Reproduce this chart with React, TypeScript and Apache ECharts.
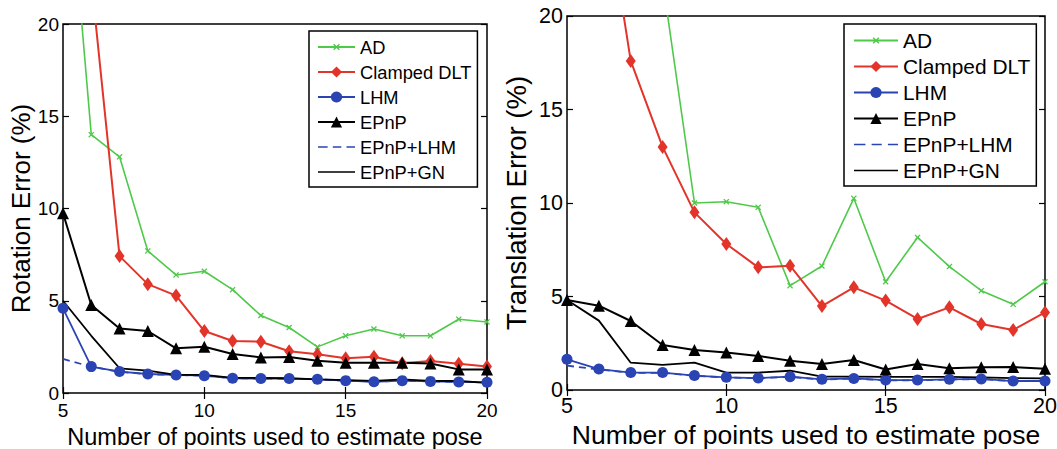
import React, { useEffect, useRef } from "react";
import * as echarts from "echarts";

// Number of 2D/3D correspondences on the horizontal axis
const pointCounts = [5, 6, 7, 8, 9, 10, 11, 12, 13, 14, 15, 16, 17, 18, 19, 20];
const yTicks = [0, 5, 10, 15, 20];

const methodNames = ["AD", "Clamped DLT", "LHM", "EPnP", "EPnP+LHM", "EPnP+GN"];

// Rotation error (%)
const rotAD = [32, 14.0, 12.8, 7.7, 6.4, 6.6, 5.6, 4.2, 3.55, 2.5, 3.1, 3.47, 3.1, 3.1, 4.0, 3.85];
const rotDLT = [40, 22.4, 7.42, 5.9, 5.28, 3.36, 2.82, 2.78, 2.26, 2.1, 1.88, 1.97, 1.61, 1.73, 1.59, 1.43];
const rotLHM = [4.59, 1.43, 1.16, 1.03, 0.98, 0.94, 0.8, 0.78, 0.78, 0.74, 0.67, 0.61, 0.67, 0.63, 0.6, 0.58];
const rotEPnP = [9.74, 4.77, 3.5, 3.36, 2.42, 2.51, 2.11, 1.93, 1.95, 1.75, 1.64, 1.64, 1.64, 1.6, 1.28, 1.28];
const rotEPnPLHM = [1.85, 1.42, 1.15, 1.02, 0.97, 0.94, 0.8, 0.78, 0.77, 0.74, 0.67, 0.62, 0.66, 0.63, 0.6, 0.58];
const rotEPnPGN = [5.0, 3.1, 1.34, 1.21, 0.98, 0.98, 0.82, 0.82, 0.8, 0.74, 0.7, 0.66, 0.74, 0.66, 0.65, 0.55];

// Translation error (%)
const trAD = [45, 35, 28, 21.9, 10.0, 10.07, 9.77, 5.58, 6.63, 10.25, 5.79, 8.16, 6.6, 5.31, 4.58, 5.79];
const trDLT = [35, 28.5, 17.6, 13.0, 9.5, 7.81, 6.56, 6.65, 4.49, 5.49, 4.78, 3.8, 4.42, 3.53, 3.21, 4.15];
const trLHM = [1.64, 1.12, 0.93, 0.93, 0.77, 0.68, 0.64, 0.71, 0.57, 0.62, 0.53, 0.53, 0.57, 0.59, 0.48, 0.48];
const trEPnP = [4.81, 4.51, 3.69, 2.41, 2.14, 2.0, 1.82, 1.57, 1.39, 1.6, 1.1, 1.39, 1.16, 1.21, 1.23, 1.14];
const trEPnPLHM = [1.3, 1.1, 0.92, 0.92, 0.76, 0.67, 0.63, 0.7, 0.56, 0.61, 0.52, 0.52, 0.56, 0.58, 0.47, 0.47];
const trEPnPGN = [4.81, 3.71, 1.46, 1.34, 1.46, 0.93, 0.93, 1.03, 0.71, 0.71, 0.7, 0.7, 0.7, 0.68, 0.64, 0.62];

const FONT = "'Liberation Sans', Arial, Helvetica, sans-serif";
const GREEN = "#4fc94a";
const RED = "#e3342a";
const BLUE = "#2b44b3";
const BLACK = "#000000";

// Tiny specks at opposite corners fix a path's bounding box, so the visible
// shape keeps its place and size inside the symbol box.
const CORNERS_10 = "M0,0L0.01,0L0,0.01Z M10,10L9.99,10L10,9.99Z ";
const CORNERS_LEGEND = "M0,0L0.01,0L0,0.01Z M100,14L99.99,14L100,13.99Z ";

// Small "x" marker, drawn as a filled outline
const X_MARK =
  "path://" + CORNERS_10 +
  "M2,2.9L2.9,2L5,4.1L7.1,2L8,2.9L5.9,5L8,7.1L7.1,8L5,5.9L2.9,8L2,7.1L4.1,5Z";

// Legend keys for the marker-less curves: a plain line and a dashed line
const SOLID_KEY = "path://" + CORNERS_LEGEND + "M0,6.2L100,6.2L100,7.8L0,7.8Z";
const DASHED_KEY =
  "path://" + CORNERS_LEGEND +
  "M0,6.2L26,6.2L26,7.8L0,7.8Z M40,6.2L63,6.2L63,7.8L40,7.8Z M77,6.2L100,6.2L100,7.8L77,7.8Z";

type Style = {
  color: string;
  symbol: string;
  symbolSize: number | number[];
  dashed?: boolean;
  width?: number;
};

const styles: Record<string, Style> = {
  AD: { color: GREEN, symbol: X_MARK, symbolSize: 10, width: 1.6 },
  "Clamped DLT": { color: RED, symbol: "diamond", symbolSize: [10, 14], width: 2 },
  LHM: { color: BLUE, symbol: "circle", symbolSize: 11, width: 1.8 },
  EPnP: { color: BLACK, symbol: "triangle", symbolSize: 12, width: 2 },
  "EPnP+LHM": { color: BLUE, symbol: "none", symbolSize: 0, dashed: true, width: 1.8 },
  "EPnP+GN": { color: BLACK, symbol: "none", symbolSize: 0, width: 1.8 },
};

function makeSeries(name: string, values: number[], axisIdx: number) {
  const s = styles[name];
  return {
    type: "line",
    name,
    xAxisIndex: axisIdx,
    yAxisIndex: axisIdx,
    data: pointCounts.map((x, i) => [x, values[i]]),
    symbol: s.symbol,
    symbolSize: s.symbolSize,
    showSymbol: s.symbol !== "none",
    clip: true,
    lineStyle: {
      color: s.color,
      width: s.width,
      type: s.dashed ? [7, 5] : "solid",
    },
    itemStyle: { color: s.color, borderWidth: 0 },
    emphasis: { disabled: true },
  };
}

function makeAxes(gridIndex: number, tickFont: number, labelMargin: number, xLabelMargin: number) {
  const common = {
    gridIndex,
    type: "value",
    axisLine: { show: false },
    splitLine: { show: false },
    axisTick: { show: true, inside: true, length: 6, lineStyle: { color: BLACK, width: 1.2 } },
  };
  const x = [
    {
      ...common,
      position: "bottom",
      min: 5,
      max: 20,
      interval: 5,
      axisLabel: { show: true, color: BLACK, fontSize: tickFont, fontFamily: FONT, margin: xLabelMargin },
    },
    {
      ...common,
      position: "top",
      min: 5,
      max: 20,
      interval: 5,
      axisLabel: { show: false },
    },
  ];
  const y = [
    {
      ...common,
      position: "left",
      min: yTicks[0],
      max: yTicks[yTicks.length - 1],
      interval: 5,
      axisLabel: { show: true, color: BLACK, fontSize: tickFont, fontFamily: FONT, margin: labelMargin },
    },
    {
      ...common,
      position: "right",
      min: yTicks[0],
      max: yTicks[yTicks.length - 1],
      interval: 5,
      axisLabel: { show: false },
    },
  ];
  return { x, y };
}

const legendData = methodNames.map((name) =>
  name === "EPnP+GN"
    ? { name, icon: SOLID_KEY }
    : name === "EPnP+LHM"
    ? { name, icon: DASHED_KEY }
    : { name }
);

export default function App() {
  const ref = useRef<HTMLDivElement>(null);

  useEffect(() => {
    if (!ref.current) return;
    const chart = echarts.init(ref.current, undefined, { renderer: "svg" });

    const left = makeAxes(0, 19, 4, 8);
    const right = makeAxes(1, 21.5, 4, 5);

    // Axis titles
    (left.x[0] as any).name = "Number of points used to estimate pose";
    (left.x[0] as any).nameLocation = "middle";
    (left.x[0] as any).nameGap = 30;
    (left.x[0] as any).nameTextStyle = { fontSize: 23.5, color: BLACK, fontFamily: FONT };
    (left.y[0] as any).name = "Rotation Error (%)";
    (left.y[0] as any).nameLocation = "middle";
    (left.y[0] as any).nameGap = 29;
    (left.y[0] as any).nameTextStyle = { fontSize: 26, color: BLACK, fontFamily: FONT };

    (right.x[0] as any).name = "Number of points used to estimate pose";
    (right.x[0] as any).nameLocation = "middle";
    (right.x[0] as any).nameGap = 31;
    (right.x[0] as any).nameTextStyle = { fontSize: 26.5, color: BLACK, fontFamily: FONT };
    (right.y[0] as any).name = "Translation Error (%)";
    (right.y[0] as any).nameLocation = "middle";
    (right.y[0] as any).nameGap = 37;
    (right.y[0] as any).nameTextStyle = { fontSize: 27.5, color: BLACK, fontFamily: FONT };

    const legendBase = {
      orient: "vertical",
      selectedMode: false,
      borderColor: BLACK,
      borderWidth: 1.5,
      backgroundColor: "#ffffff",
      itemHeight: 14,
      itemGap: 5,
      symbolKeepAspect: false,
      data: legendData,
    };

    const gridBase = {
      show: true,
      borderColor: BLACK,
      borderWidth: 1.5,
      backgroundColor: "transparent",
      containLabel: false,
      outerBoundsMode: "none",
    };

    const option = {
      animation: false,
      backgroundColor: "#ffffff",
      textStyle: { fontFamily: FONT },
      grid: [
        { ...gridBase, left: 63, top: 24, width: 424, height: 369 },
        { ...gridBase, left: 567, top: 16, width: 478, height: 374 },
      ],
      xAxis: [...left.x, ...right.x],
      yAxis: [...left.y, ...right.y],
      legend: [
        {
          ...legendBase,
          left: 309,
          top: 31,
          padding: [6, 6, 5, 8],
          itemWidth: 37,
          textStyle: { fontSize: 18.3, lineHeight: 20, color: BLACK, fontFamily: FONT },
        },
        {
          ...legendBase,
          left: 844,
          top: 24,
          padding: [6, 6, 5, 9],
          itemWidth: 44,
          textStyle: { fontSize: 20.9, lineHeight: 20, color: BLACK, fontFamily: FONT },
        },
      ],
      series: [
        makeSeries("AD", rotAD, 0),
        makeSeries("Clamped DLT", rotDLT, 0),
        makeSeries("LHM", rotLHM, 0),
        makeSeries("EPnP", rotEPnP, 0),
        makeSeries("EPnP+LHM", rotEPnPLHM, 0),
        makeSeries("EPnP+GN", rotEPnPGN, 0),
        makeSeries("AD", trAD, 2),
        makeSeries("Clamped DLT", trDLT, 2),
        makeSeries("LHM", trLHM, 2),
        makeSeries("EPnP", trEPnP, 2),
        makeSeries("EPnP+LHM", trEPnPLHM, 2),
        makeSeries("EPnP+GN", trEPnPGN, 2),
      ],
    };

    chart.setOption(option as any);
    return () => chart.dispose();
  }, []);

  return (
    <div
      ref={ref}
      style={{ position: "absolute", left: 0, top: 0, width: 1057, height: 449, background: "#fff" }}
    />
  );
}
